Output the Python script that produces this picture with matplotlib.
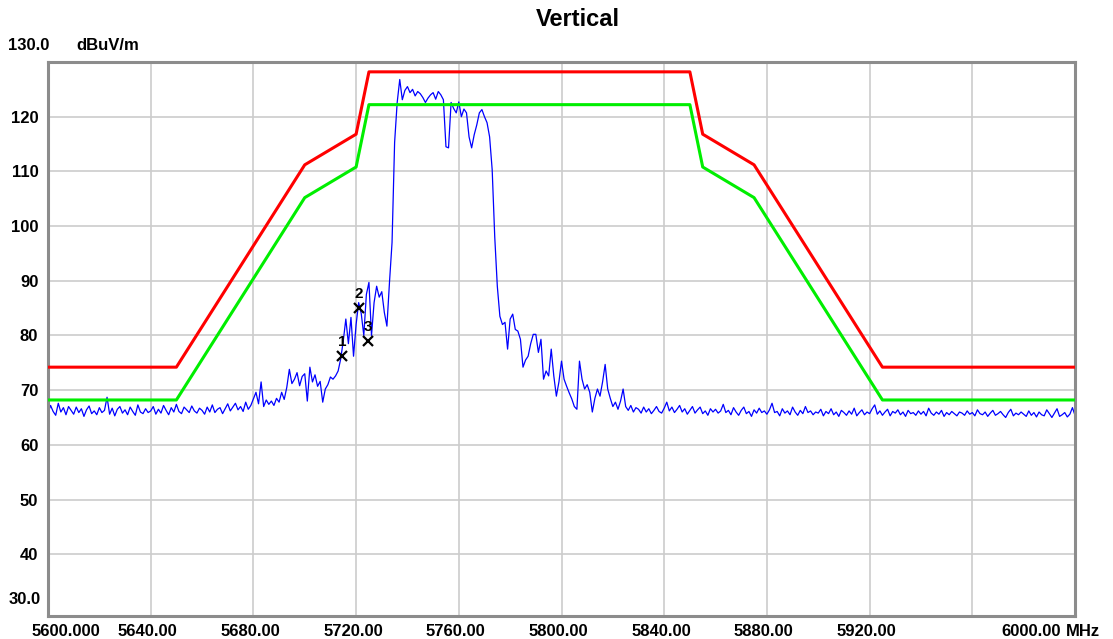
import numpy as np
import matplotlib.pyplot as plt
import matplotlib.transforms as mtransforms

# measured trace, 1 MHz steps from 5600 to 6000 MHz (dBuV/m)
trace = [
    65.8, 67.2, 66.1, 65.4, 67.6, 66.0, 66.8, 65.5, 67.0, 66.3, 65.6, 66.9, 65.9, 66.6, 65.2, 66.4, 67.1, 65.7, 66.2, 65.5,
    66.8, 65.9, 66.3, 68.7, 65.6, 66.7, 65.3, 66.5, 67.0, 65.8, 66.4, 65.5, 66.9, 66.1, 65.4, 67.3, 66.0, 65.7, 66.6, 65.9,
    66.2, 67.0, 65.6, 66.5, 65.8, 67.2, 66.3, 65.5, 66.8, 66.0, 67.4, 66.1, 65.7, 66.9, 66.4, 65.9, 67.1, 66.2, 65.8, 66.7,
    66.3, 65.6, 66.9, 66.0, 67.3, 65.9, 66.5, 66.8, 65.7, 66.6, 67.5, 66.2, 66.9, 67.6, 66.4, 67.0, 66.1, 67.8, 66.5, 67.2,
    68.4, 69.6, 67.5, 71.5, 67.0, 68.2, 67.4, 68.0, 67.2, 68.5, 67.8, 69.6, 68.3, 70.5, 73.8, 71.2, 72.0, 73.2, 70.8, 72.5,
    73.0, 68.0, 74.2, 71.5, 72.8, 70.7, 71.6, 67.8, 70.2, 71.0, 72.4, 72.0, 72.6, 73.5, 75.7, 79.0, 83.0, 78.5, 83.3, 76.2,
    82.0, 86.0, 84.0, 80.0, 87.5, 89.7, 80.0, 86.0, 89.0, 87.0, 88.0, 84.2, 81.7, 89.7, 97.0, 115.3, 122.6, 126.8, 123.1, 124.8,
    125.5, 124.4, 125.0, 123.8, 124.6, 124.2, 123.5, 122.6, 123.4, 124.0, 124.4, 123.2, 124.6, 124.0, 123.1, 114.5, 114.3, 122.6, 121.5, 120.7,
    122.7, 120.0, 121.4, 120.7, 116.3, 114.3, 116.7, 118.5, 120.7, 121.3, 120.0, 118.9, 116.3, 110.3, 98.0, 89.0, 83.5, 82.0, 82.4, 77.5,
    83.0, 83.9, 81.1, 80.8, 79.3, 74.2, 75.5, 76.2, 78.5, 80.2, 80.2, 76.9, 79.3, 72.0, 73.5, 72.6, 77.5, 72.6, 68.9, 71.5,
    75.3, 72.0, 70.7, 69.5, 68.4, 67.0, 66.5, 75.3, 72.0, 70.2, 71.0, 69.6, 66.0, 68.5, 70.2, 68.9, 71.5, 74.7, 70.2, 68.5,
    67.0, 67.8, 66.5, 68.0, 70.2, 67.0, 66.3, 67.2, 66.0, 66.8, 66.5, 65.8, 66.9, 66.0, 66.6, 65.7, 66.3, 67.0, 66.1, 65.8,
    66.7, 67.8, 66.2, 66.9, 65.9, 66.5, 67.2, 66.0, 66.6, 65.6, 66.3, 67.0, 65.8, 66.4, 66.9, 65.7, 66.2, 65.4, 66.6, 66.0,
    66.5, 65.8, 66.2, 67.4, 65.9, 66.3, 65.5, 66.8, 66.0, 65.4, 66.3, 66.9, 65.7, 66.1, 65.2, 66.4, 65.8, 66.7, 65.9, 66.2,
    65.6, 66.4, 67.6, 65.9, 66.1, 65.3, 66.6, 65.8, 66.2, 65.5, 66.9, 66.0, 65.4, 66.3, 65.7, 67.0, 65.9, 66.2, 65.5, 66.0,
    65.8, 66.5, 65.3, 66.1, 65.7, 66.6, 65.5, 66.0, 65.2, 66.3, 65.9, 65.4, 66.2, 65.6, 66.7, 65.3, 65.9, 66.4, 65.5, 66.0,
    65.7, 66.6, 67.3, 65.6, 66.2, 65.4, 66.0, 66.5, 65.3, 66.1, 65.8, 66.4, 65.5, 66.0, 65.2, 66.3, 65.7, 65.9, 65.4, 66.2,
    65.6, 66.1, 65.3, 66.7, 65.8, 65.4, 66.0, 65.6, 66.3, 65.2, 65.9, 65.5, 66.1, 65.7, 65.3, 66.0, 65.8, 65.4, 66.2, 65.6,
    65.9, 65.3, 66.4, 65.7, 65.5, 66.0, 65.2, 65.8, 66.3, 65.4, 65.7, 66.1, 65.5, 65.0, 65.9, 66.5, 65.3, 65.8, 65.5, 66.0,
    65.6, 65.2, 66.2, 65.4, 65.9, 65.1, 66.0, 65.5, 65.3, 66.4, 65.7, 65.0, 65.8, 66.6, 65.2, 65.5, 65.9, 65.1, 65.6, 66.8,
    65.4,
]
freq = np.linspace(5600, 6000, len(trace))

# limit lines
limit_freq = [5600, 5650, 5700, 5720, 5725, 5850, 5855, 5875, 5925, 6000]
avg_limit = [68.2, 68.2, 105.2, 110.8, 122.2, 122.2, 110.8, 105.2, 68.2, 68.2]
peak_limit = [74.2, 74.2, 111.2, 116.8, 128.2, 128.2, 116.8, 111.2, 74.2, 74.2]

# markers
marker_freq = [5714.5, 5721.0, 5724.6]
marker_level = [76.3, 85.0, 79.0]
marker_names = ['1', '2', '3']

xtick_vals = [5600, 5640, 5680, 5720, 5760, 5800, 5840, 5880, 5920, 5960, 6000]
xtick_text = ['5600.000', '5640.00', '5680.00', '5720.00', '5760.00', '5800.00',
              '5840.00', '5880.00', '5920.00', '', '6000.00']
ytick_vals = [40, 50, 60, 70, 80, 90, 100, 110, 120]

plt.rcParams['font.family'] = ['Liberation Sans', 'DejaVu Sans']

fig = plt.figure(figsize=(11.13, 6.39), dpi=100)
ax = fig.add_axes([48 / 1113, 1 - 616 / 639, 1027 / 1113, 554 / 639])

ax.plot(freq, trace, color='#0000ff', lw=0.9, zorder=2)
ax.plot(limit_freq, peak_limit, color='#ff0000', lw=2.2, zorder=3)
ax.plot(limit_freq, avg_limit, color='#00ee00', lw=2.2, zorder=3)

for f, v, n in zip(marker_freq, marker_level, marker_names):
    ax.plot(f, v, marker='x', color='black', ms=7, mew=1.6, zorder=5)
    ax.annotate(n, (f, v), xytext=(0, 10), textcoords='offset points',
                ha='center', va='center', fontsize=11, fontweight='bold', zorder=5)

ax.set_xlim(5600, 6000)
ax.set_ylim(28.7, 130)
ax.set_xticks(xtick_vals[1:-1])
ax.set_yticks(ytick_vals)
ax.set_xticklabels([])
ax.set_yticklabels([str(v) for v in ytick_vals], fontsize=12, fontweight='bold')
ax.tick_params(length=0, pad=7)
ax.grid(True, color='#cccccc', lw=1.2)
for s in ax.spines.values():
    s.set_color('#8c8c8c')
    s.set_linewidth(2.2)

# x tick labels drawn below the axes
base = ax.get_xaxis_transform()
for i, (v, t) in enumerate(zip(xtick_vals, xtick_text)):
    if i == 0:
        ha, dx = 'left', -16
    elif i == len(xtick_vals) - 1:
        ha, dx = 'right', -14
    else:
        ha, dx = 'center', -3
    tr = base + mtransforms.ScaledTranslation(dx / 100, -15 / 100, fig.dpi_scale_trans)
    ax.text(v, 0, t, transform=tr, ha=ha, va='center', fontsize=12, fontweight='bold')

fig.text(1066 / 1113, 1 - 631 / 639, 'MHz', ha='left', va='center', fontsize=12, fontweight='bold')
fig.text(8 / 1113, 1 - 46 / 639, '130.0', ha='left', va='center', fontsize=12, fontweight='bold')
fig.text(76 / 1113, 1 - 46 / 639, 'dBuV/m', ha='left', va='center', fontsize=12, fontweight='bold')
fig.text(41 / 1113, 1 - 600 / 639, '30.0', ha='right', va='center', fontsize=12, fontweight='bold')
fig.text(578 / 1113, 1 - 19 / 639, 'Vertical', ha='center', va='center', fontsize=17, fontweight='bold')

fig.savefig('out.png', dpi=100)
